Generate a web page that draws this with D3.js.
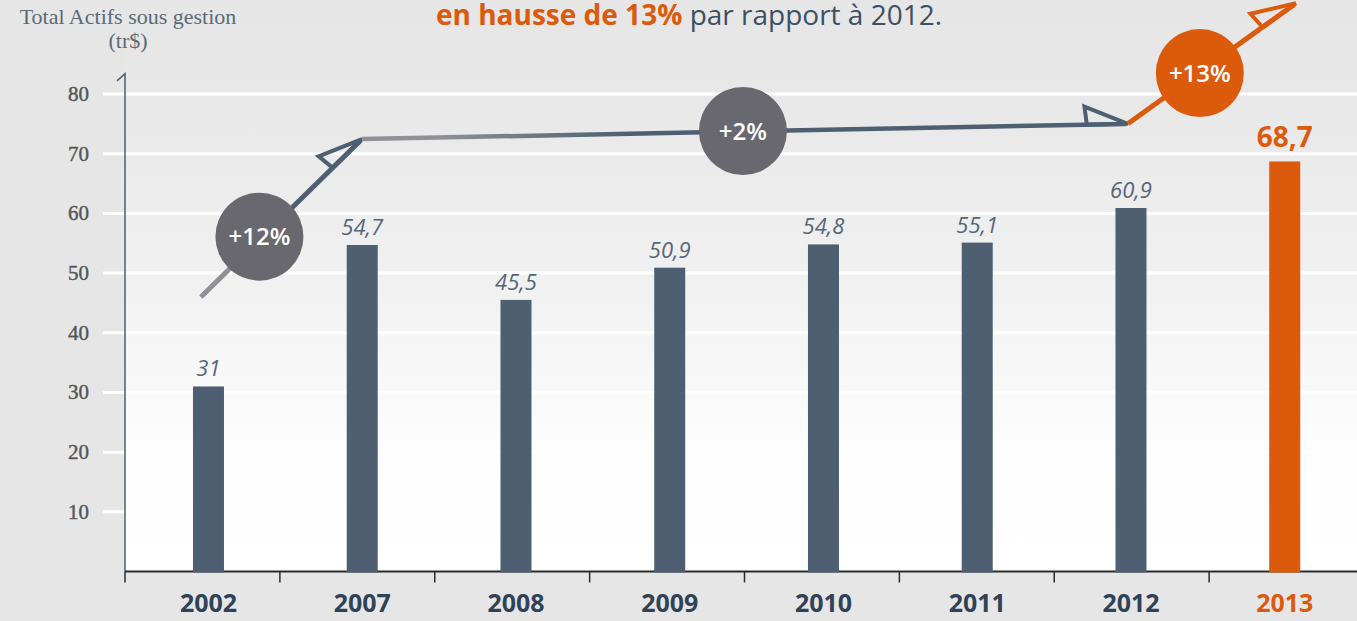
<!DOCTYPE html>
<html>
<head>
<meta charset="utf-8">
<script src="https://cdn.jsdelivr.net/npm/d3@7"></script>
<style>
  html, body { margin: 0; padding: 0; background: #e6e6e6; overflow: hidden; }
  svg { display: block; }
</style>
</head>
<body>
<div id="chart"></div>
<script>
// ── Data ──
const years       = ["2002", "2007", "2008", "2009", "2010", "2011", "2012", "2013"];
const values      = [31, 54.7, 45.5, 50.9, 54.8, 55.1, 60.9, 68.7];
const valueLabels = ["31", "54,7", "45,5", "50,9", "54,8", "55,1", "60,9", "68,7"];
const yTicks      = [10, 20, 30, 40, 50, 60, 70, 80];
const highlightYear = "2013";

// growth annotations, in (band index, value) units
const growthLabels = ["+12%", "+2%", "+13%"];
const growthFrom   = [[0.49, 46.0], [1.53, 72.45], [6.475, 75.0]];
const growthTo     = [[1.53, 72.45], [6.475, 75.0], [7.56, 95.2]];
const growthBadge  = [[0.868, 56.1], [3.99, 73.8], [6.94, 83.5]];

const W = 1357, H = 621;
const SLATE = "#4d5f71", ORANGE = "#dc5a0b", GREY = "#8f9196", BADGE = "#68686e";
const SANS = "'Open Sans', 'Noto Sans', sans-serif";

const svg = d3.select("#chart").append("svg").attr("width", W).attr("height", H);
const defs = svg.append("defs");

// ── Scales ──
const y     = d3.scaleLinear().domain([0, 80]).range([571.5, 94]);
const xTick = d3.scaleBand().domain(years).range([125, 1364]);
const x     = d3.scaleBand().domain(years).range([131.6, 1361.6]);
const xi    = d3.scaleLinear().domain([0, 8]).range([125, 1364]);
const barW  = 31;

// ── Backgrounds ──
svg.append("rect").attr("width", W).attr("height", H).attr("fill", "#e6e6e6");

const bg = defs.append("linearGradient").attr("id", "plot-bg")
  .attr("x1", 0).attr("y1", 0).attr("x2", 0).attr("y2", 1);
[[0, "#e6e6e6"], [0.18, "#e8e8e8"], [0.5, "#f1f1f1"], [0.78, "#fdfdfd"], [1, "#ffffff"]]
  .forEach(([o, c]) => bg.append("stop").attr("offset", o).attr("stop-color", c));

svg.append("rect")
  .attr("x", 125).attr("y", 0)
  .attr("width", W - 125).attr("height", y(0))
  .attr("fill", "url(#plot-bg)");

// ── Grid ──
svg.append("g").selectAll("line")
  .data(yTicks).join("line")
  .attr("x1", 103).attr("x2", W)
  .attr("y1", d => y(d)).attr("y2", d => y(d))
  .attr("stroke", "#fff").attr("stroke-width", 3);

// y tick labels
svg.append("g").selectAll("text")
  .data(yTicks).join("text")
  .attr("x", 89).attr("y", d => y(d) + 7)
  .attr("text-anchor", "end")
  .attr("font-family", "'Liberation Serif', 'DejaVu Serif', serif")
  .attr("font-size", "21px")
  .attr("fill", "#555")
  .attr("stroke", "#555").attr("stroke-width", 0.4)
  .text(d => d);

// y axis title
const title = svg.append("text")
  .attr("font-family", "'Liberation Serif', serif")
  .attr("font-size", "22px")
  .attr("fill", "#5b6a79")
  .attr("text-anchor", "middle");
title.append("tspan").attr("x", 128).attr("y", 24).text("Total Actifs sous gestion");
title.append("tspan").attr("x", 128).attr("y", 48).text("(tr$)");

// ── Axes ──
svg.append("path")
  .attr("d", `M125,${y(0)}V${y(83.4)}L117,${y(82.2)}`)
  .attr("fill", "none").attr("stroke", SLATE).attr("stroke-width", 1.5);

svg.append("line")
  .attr("x1", 125).attr("x2", W)
  .attr("y1", y(0)).attr("y2", y(0))
  .attr("stroke", "#2b2b2b").attr("stroke-width", 2);

svg.append("g").selectAll("line")
  .data(years).join("line")
  .attr("x1", d => xTick(d)).attr("x2", d => xTick(d))
  .attr("y1", y(0)).attr("y2", y(0) + 11)
  .attr("stroke", "#2b2b2b").attr("stroke-width", 1.5);

// ── Bars ──
const data = years.map((yr, i) => ({ year: yr, value: values[i], label: valueLabels[i] }));

svg.append("g").selectAll("rect")
  .data(data).join("rect")
  .attr("x", d => x(d.year) + x.bandwidth() / 2 - barW / 2)
  .attr("width", barW)
  .attr("y", d => y(d.value))
  .attr("height", d => y(0) - y(d.value) + 1)
  .attr("fill", d => d.year === highlightYear ? ORANGE : SLATE);

// value labels
svg.append("g").selectAll("text")
  .data(data).join("text")
  .attr("x", d => x(d.year) + x.bandwidth() / 2)
  .attr("y", d => y(d.value) - (d.year === highlightYear ? 14 : 10))
  .attr("text-anchor", "middle")
  .attr("font-family", SANS)
  .attr("font-style", d => d.year === highlightYear ? "normal" : "italic")
  .attr("font-weight", d => d.year === highlightYear ? 700 : 400)
  .attr("font-size", d => d.year === highlightYear ? "28px" : "22px")
  .attr("fill", d => d.year === highlightYear ? ORANGE : "#566678")
  .text(d => d.label);

// x labels
svg.append("g").selectAll("text")
  .data(years).join("text")
  .attr("x", d => x(d) + x.bandwidth() / 2)
  .attr("y", 612)
  .attr("text-anchor", "middle")
  .attr("font-family", SANS)
  .attr("font-weight", 700)
  .attr("font-size", "25px")
  .attr("fill", d => d === highlightYear ? ORANGE : "#2f4257")
  .text(d => d);

// ── Growth arrows ──
const pt = p => [xi(p[0]), y(p[1])];

function lineGradient(id, a, b, stops) {
  const g = defs.append("linearGradient").attr("id", id)
    .attr("gradientUnits", "userSpaceOnUse")
    .attr("x1", a[0]).attr("y1", a[1]).attr("x2", b[0]).attr("y2", b[1]);
  stops.forEach(([o, c]) => g.append("stop").attr("offset", o).attr("stop-color", c));
}

const arrowStyles = [
  { stroke: "url(#arr0)", head: SLATE, width: 5, badge: BADGE,
    stops: [[0, GREY], [0.3, GREY], [0.45, SLATE], [1, SLATE]] },
  { stroke: "url(#arr1)", head: SLATE, width: 4.5, badge: BADGE,
    stops: [[0, GREY], [0.1, GREY], [0.35, SLATE], [1, SLATE]] },
  { stroke: ORANGE, head: ORANGE, width: 5, badge: ORANGE, stops: null },
];

const arrows = svg.append("g");
growthLabels.forEach((lab, i) => {
  const a = pt(growthFrom[i]), b = pt(growthTo[i]);
  const st = arrowStyles[i];
  if (st.stops) lineGradient(`arr${i}`, a, b, st.stops);

  const dx = b[0] - a[0], dy = b[1] - a[1], len = Math.hypot(dx, dy);
  const ux = dx / len, uy = dy / len;
  const px = uy, py = -ux; // left-hand side of travel direction
  const back = 43, out = 18;

  arrows.append("line")
    .attr("x1", a[0]).attr("y1", a[1])
    .attr("x2", b[0] - ux * 2).attr("y2", b[1] - uy * 2)
    .attr("stroke", st.stroke).attr("stroke-width", st.width);

  const tip = b;
  const outer = [b[0] - ux * back + px * out, b[1] - uy * back + py * out];
  const base  = [b[0] - ux * (back - 2), b[1] - uy * (back - 2)];
  arrows.append("path")
    .attr("d", `M${tip}L${outer}L${base}Z`)
    .attr("fill", "none").attr("stroke", st.head)
    .attr("stroke-width", 4).attr("stroke-linejoin", "miter");

  const c = pt(growthBadge[i]);
  arrows.append("circle")
    .attr("cx", c[0]).attr("cy", c[1]).attr("r", 44)
    .attr("fill", st.badge);
  arrows.append("text")
    .attr("x", c[0]).attr("y", c[1] + 8.5)
    .attr("text-anchor", "middle")
    .attr("font-family", SANS)
    .attr("font-weight", 600)
    .attr("font-size", "24px")
    .attr("fill", "#fff")
    .text(lab);
});

// ── Header line ──
const header = svg.append("text")
  .attr("x", 436).attr("y", 25)
  .attr("font-family", SANS)
  .attr("font-size", "28px");
header.append("tspan").attr("font-weight", 700).attr("fill", ORANGE).text("en hausse de 13%");
header.append("tspan").attr("fill", "#3d4f63").text(" par rapport à 2012.");
</script>
</body>
</html>
